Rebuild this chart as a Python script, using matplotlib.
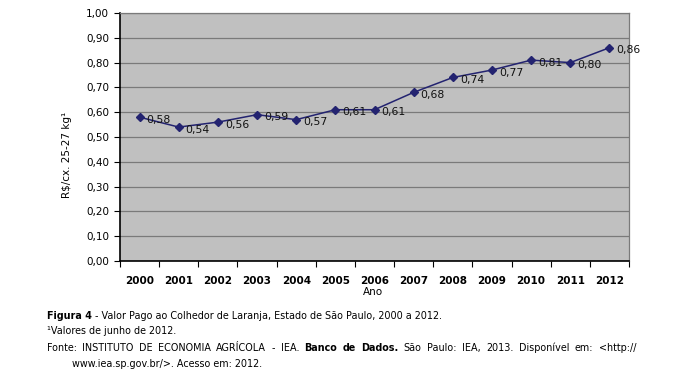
import matplotlib
matplotlib.use('Agg')
import matplotlib.pyplot as plt
import numpy as np

anos = ['2000', '2001', '2002', '2003', '2004', '2005', '2006',
        '2007', '2008', '2009', '2010', '2011', '2012']
valores = [0.58, 0.54, 0.56, 0.59, 0.57, 0.61, 0.61,
           0.68, 0.74, 0.77, 0.81, 0.80, 0.86]
yticks = [0.0, 0.1, 0.2, 0.3, 0.4, 0.5, 0.6, 0.7, 0.8, 0.9, 1.0]

plt.rcParams['font.family'] = 'DejaVu Sans'

fig = plt.figure(figsize=(6.82, 3.89), dpi=100)
ax = fig.add_axes([120 / 682, 1 - 261 / 389, 509 / 682, 248 / 389])
ax.set_facecolor('#c0c0c0')

x = np.arange(len(anos))
ax.plot(x, valores, color='#232370', lw=1.1, marker='D', ms=4.5,
        mfc='#232370', mec='#232370', zorder=3)
for xi, v in zip(x, valores):
    ax.annotate(f'{v:.2f}'.replace('.', ','), (xi, v), xytext=(5, -2),
                textcoords='offset points', ha='left', va='center',
                fontsize=7.8, color='#111111', zorder=4)

ax.set_xlim(-0.5, len(anos) - 0.5)
ax.set_ylim(0, 1.0)
ax.set_yticks(yticks)
ax.set_yticklabels([f'{t:.2f}'.replace('.', ',') for t in yticks], fontsize=7.5)
ax.yaxis.grid(True, color='#7a7a7a', lw=0.9)
ax.set_axisbelow(True)

# ticks at category boundaries, labels centred on the categories
ax.set_xticks(np.arange(-0.5, len(anos), 1.0))
ax.set_xticklabels([])
ax.set_xticks(x, minor=True)
ax.set_xticklabels(anos, minor=True, fontsize=7.5, fontweight='bold')
ax.tick_params(axis='x', which='minor', length=0, pad=11)
ax.tick_params(axis='x', which='major', length=4, width=0.8, direction='out')
ax.tick_params(axis='y', length=4, width=0.8, direction='out', pad=4)

for s in ['left', 'bottom']:
    ax.spines[s].set_color('black')
    ax.spines[s].set_linewidth(1.2)
for s in ['top', 'right']:
    ax.spines[s].set_color('#7a7a7a')
    ax.spines[s].set_linewidth(0.9)

fig.text(373 / 682, 1 - 292 / 389, 'Ano', ha='center', va='center', fontsize=7.5)
fig.text(67 / 682, 1 - 155 / 389, 'R$/cx. 25-27 kg¹', rotation=90,
         ha='center', va='center', fontsize=7.5)

# caption with mixed bold / normal pieces
renderer = fig.canvas.get_renderer()
FS = 6.9


def linha(x0, y0, partes, fs=FS):
    xpos = x0 / 682
    for txt, peso in partes:
        t = fig.text(xpos, 1 - y0 / 389, txt, fontsize=fs, fontweight=peso,
                     ha='left', va='center')
        bb = t.get_window_extent(renderer=renderer)
        xpos = bb.x1 / fig.bbox.width


def justificada(x0, x1, y0, palavras, fs=FS):
    # palavras: list of (word, weight); spread to fill x0..x1 (pixels)
    objs = []
    total = 0
    for w, peso in palavras:
        t = fig.text(0, 1 - y0 / 389, w, fontsize=fs, fontweight=peso,
                     ha='left', va='center')
        wd = t.get_window_extent(renderer=renderer).width
        objs.append((t, wd))
        total += wd
    gap = (x1 - x0 - total) / (len(objs) - 1)
    xpos = x0
    for t, wd in objs:
        t.set_x(xpos / 682)
        xpos += wd + gap


linha(47, 316, [('Figura 4', 'bold'),
                (' - Valor Pago ao Colhedor de Laranja, Estado de São Paulo, 2000 a 2012.', 'normal')])
linha(47, 331, [('¹Valores de junho de 2012.', 'normal')])
fonte = [('Fonte:', 'normal'), ('INSTITUTO', 'normal'), ('DE', 'normal'),
         ('ECONOMIA', 'normal'), ('AGRÍCOLA', 'normal'), ('-', 'normal'),
         ('IEA.', 'normal'), ('Banco', 'bold'), ('de', 'bold'),
         ('Dados.', 'bold'), ('São', 'normal'), ('Paulo:', 'normal'),
         ('IEA,', 'normal'), ('2013.', 'normal'), ('Disponível', 'normal'),
         ('em:', 'normal'), ('<http://', 'normal')]
justificada(47, 636, 348, fonte)
linha(72, 364, [('www.iea.sp.gov.br/>. Acesso em: 2012.', 'normal')])

fig.savefig('out.png', dpi=100)
